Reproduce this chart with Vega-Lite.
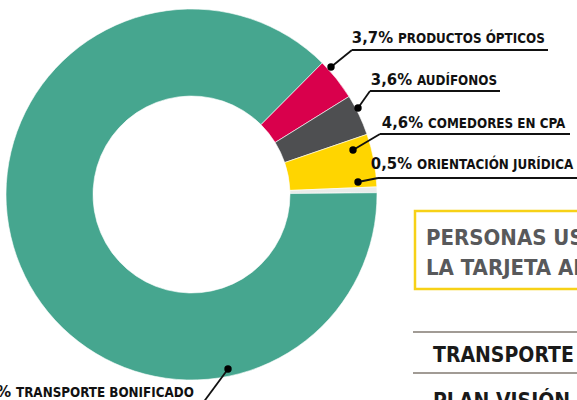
{
  "$schema": "https://vega.github.io/schema/vega-lite/v6.json",
  "width": 577,
  "height": 400,
  "autosize": {"type": "none"},
  "padding": 0,
  "background": "white",
  "config": {"view": {"stroke": null}, "font": "'Liberation Sans Narrow', 'DejaVu Sans Condensed', 'Roboto Condensed', sans-serif"},
  "datasets": {
    "slices": [
      {"category": "PRODUCTOS ÓPTICOS", "pct": 3.7, "ord": 1},
      {"category": "AUDÍFONOS", "pct": 3.6, "ord": 2},
      {"category": "COMEDORES EN CPA", "pct": 4.6, "ord": 3},
      {"category": "ORIENTACIÓN JURÍDICA", "pct": 0.5, "ord": 4},
      {"category": "TRANSPORTE BONIFICADO", "pct": 87.6, "ord": 5}
    ],
    "labels": [
      {"num": "3,7%", "name": "PRODUCTOS ÓPTICOS", "x": 398, "y": 43},
      {"num": "3,6%", "name": "AUDÍFONOS", "x": 417, "y": 85},
      {"num": "4,6%", "name": "COMEDORES EN CPA", "x": 428, "y": 128},
      {"num": "0,5%", "name": "ORIENTACIÓN JURÍDICA", "x": 417, "y": 169},
      {"num": "87,6%", "name": "TRANSPORTE BONIFICADO", "x": 16, "y": 397}
    ],
    "leaders": [
      {"x": 331, "y": 67, "x2": 352, "y2": 50},
      {"x": 352, "y": 50, "x2": 548, "y2": 50},
      {"x": 358, "y": 108, "x2": 370, "y2": 91},
      {"x": 370, "y": 91, "x2": 500, "y2": 91},
      {"x": 353, "y": 150, "x2": 380, "y2": 134},
      {"x": 380, "y": 134, "x2": 570, "y2": 134},
      {"x": 358, "y": 182, "x2": 378, "y2": 178},
      {"x": 378, "y": 178, "x2": 600, "y2": 178},
      {"x": 228, "y": 369, "x2": 197, "y2": 411}
    ],
    "dots": [
      {"x": 331, "y": 67},
      {"x": 358, "y": 108},
      {"x": 353, "y": 150},
      {"x": 358, "y": 182},
      {"x": 228, "y": 369}
    ],
    "box": [{"x": 415, "x2": 620, "y": 211, "y2": 289}],
    "boxtext": [
      {"t": "PERSONAS USUARIAS DE", "x": 426, "y": 245},
      {"t": "LA TARJETA AMARILLA", "x": 426, "y": 275}
    ],
    "rows": [
      {"x": 413, "x2": 620, "y": 332},
      {"x": 413, "x2": 620, "y": 373}
    ],
    "rowtext": [
      {"t": "TRANSPORTE", "x": 433, "y": 362},
      {"t": "PLAN VISIÓN AUDITIVA", "x": 433, "y": 408}
    ]
  },
  "layer": [
    {
      "data": {"name": "slices"},
      "mark": {"type": "arc", "outerRadius": 185.5, "innerRadius": 98.5, "stroke": "white", "strokeWidth": 0.6},
      "encoding": {
        "x": {"datum": 191.5, "type": "quantitative", "scale": {"domain": [0, 577], "nice": false, "zero": false}, "axis": null},
        "y": {"datum": 194.5, "type": "quantitative", "scale": {"domain": [400, 0], "nice": false, "zero": false}, "axis": null},
        "theta": {"field": "pct", "type": "quantitative", "stack": true, "scale": {"range": [0.782, 7.0652]}},
        "order": {"field": "ord", "type": "quantitative"},
        "color": {
          "field": "category",
          "type": "nominal",
          "scale": {
            "domain": ["PRODUCTOS ÓPTICOS", "AUDÍFONOS", "COMEDORES EN CPA", "ORIENTACIÓN JURÍDICA", "TRANSPORTE BONIFICADO"],
            "range": ["#D9004C", "#4E4F51", "#FFD500", "#E9EBE9", "#46A68F"]
          },
          "legend": null
        }
      }
    },
    {
      "data": {"name": "leaders"},
      "mark": {"type": "rule", "color": "#111111", "strokeWidth": 1.8},
      "encoding": {
        "x": {"field": "x", "type": "quantitative"},
        "y": {"field": "y", "type": "quantitative"},
        "x2": {"field": "x2"},
        "y2": {"field": "y2"}
      }
    },
    {
      "data": {"name": "dots"},
      "mark": {"type": "point", "filled": true, "color": "#000000", "opacity": 1, "size": 55},
      "encoding": {
        "x": {"field": "x", "type": "quantitative"},
        "y": {"field": "y", "type": "quantitative"}
      }
    },
    {
      "data": {"name": "labels"},
      "mark": {"type": "text", "align": "right", "baseline": "alphabetic", "dx": -5, "fontSize": 16.5, "fontWeight": "bold", "color": "#111111"},
      "encoding": {
        "x": {"field": "x", "type": "quantitative"},
        "y": {"field": "y", "type": "quantitative"},
        "text": {"field": "num"}
      }
    },
    {
      "data": {"name": "labels"},
      "mark": {"type": "text", "align": "left", "baseline": "alphabetic", "fontSize": 13.3, "fontWeight": "bold", "color": "#111111"},
      "encoding": {
        "x": {"field": "x", "type": "quantitative"},
        "y": {"field": "y", "type": "quantitative"},
        "text": {"field": "name"}
      }
    },
    {
      "data": {"name": "box"},
      "mark": {"type": "rect", "fill": null, "fillOpacity": 0, "stroke": "#F7D117", "strokeWidth": 2.5},
      "encoding": {
        "x": {"field": "x", "type": "quantitative"},
        "x2": {"field": "x2"},
        "y": {"field": "y", "type": "quantitative"},
        "y2": {"field": "y2"}
      }
    },
    {
      "data": {"name": "boxtext"},
      "mark": {"type": "text", "align": "left", "baseline": "alphabetic", "fontSize": 22, "fontWeight": "bold", "color": "#58595B"},
      "encoding": {
        "x": {"field": "x", "type": "quantitative"},
        "y": {"field": "y", "type": "quantitative"},
        "text": {"field": "t"}
      }
    },
    {
      "data": {"name": "rows"},
      "mark": {"type": "rule", "color": "#A19B95", "strokeWidth": 2},
      "encoding": {
        "x": {"field": "x", "type": "quantitative"},
        "x2": {"field": "x2"},
        "y": {"field": "y", "type": "quantitative"}
      }
    },
    {
      "data": {"name": "rowtext"},
      "mark": {"type": "text", "align": "left", "baseline": "alphabetic", "fontSize": 21, "fontWeight": "bold", "color": "#1A1A1A"},
      "encoding": {
        "x": {"field": "x", "type": "quantitative"},
        "y": {"field": "y", "type": "quantitative"},
        "text": {"field": "t"}
      }
    }
  ]
}
